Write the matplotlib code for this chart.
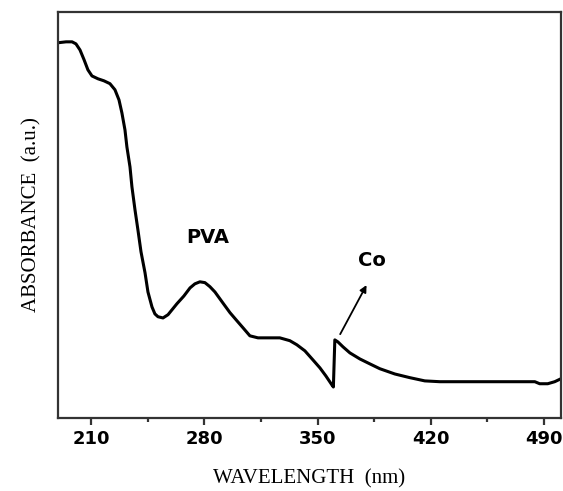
import matplotlib
matplotlib.use('Agg')
import matplotlib.pyplot as plt
from matplotlib.ticker import MultipleLocator

# UV-vis spectrum (absorbance in arbitrary units)
wavelength = [190.2, 194.6, 198.3, 200.7, 203.2, 205.7, 208.1, 210.6, 214.3, 218.0,
              221.7, 224.8, 227.3, 229.1, 231.0, 232.2, 234.1, 235.3, 237.2, 239.0,
              240.9, 243.4, 245.2, 247.7, 249.5, 251.4, 254.5, 257.6, 263.1, 267.4,
              271.2, 274.2, 277.3, 280.4, 283.5, 286.6, 291.5, 295.9, 300.2, 303.9,
              308.2, 313.2, 319.3, 326.7, 332.9, 337.2, 342.2, 347.1, 351.5, 355.2,
              358.9, 359.8, 360.7, 362.6, 365.7, 370.0, 376.2, 382.3, 388.5, 397.8,
              407.0, 416.3, 425.6, 450.3, 475.0, 484.3, 487.3, 492.3, 496.6, 500.3]
absorbance = [0.924, 0.926, 0.926, 0.921, 0.906, 0.882, 0.857, 0.842, 0.835, 0.830,
              0.823, 0.808, 0.783, 0.751, 0.709, 0.667, 0.618, 0.569, 0.512, 0.463,
              0.409, 0.357, 0.310, 0.273, 0.256, 0.249, 0.246, 0.254, 0.281, 0.300,
              0.320, 0.330, 0.335, 0.333, 0.323, 0.310, 0.283, 0.259, 0.239, 0.222,
              0.202, 0.197, 0.197, 0.197, 0.190, 0.180, 0.165, 0.143, 0.123, 0.103,
              0.081, 0.076, 0.192, 0.187, 0.175, 0.160, 0.145, 0.133, 0.121, 0.108,
              0.099, 0.091, 0.089, 0.089, 0.089, 0.089, 0.084, 0.084, 0.089, 0.096]

xticks = [210, 280, 350, 420, 490]

fig = plt.figure(figsize=(5.63, 4.91), dpi=100)
ax = fig.add_axes([0.103, 0.149, 0.8935, 0.827])

ax.plot(wavelength, absorbance, color='black', lw=2.2, solid_joinstyle='round')

ax.set_xlim(189.6, 500.5)
ax.set_ylim(0, 1)
ax.set_xticks(xticks)
ax.xaxis.set_minor_locator(MultipleLocator(35))
ax.set_yticks([])

for s in ax.spines.values():
    s.set_color('#333333')
    s.set_linewidth(1.6)

ax.tick_params(axis='x', which='major', direction='out', length=5, width=1.6,
               color='#333333', pad=4)
ax.tick_params(axis='x', which='minor', direction='out', length=3, width=1.6,
               color='#333333')
for lbl in ax.get_xticklabels():
    lbl.set_fontweight('bold')
    lbl.set_fontsize(13)

ax.set_xlabel('WAVELENGTH  (nm)', family='Liberation Serif', fontsize=15, labelpad=15)
ax.set_ylabel('ABSORBANCE  (a.u.)', family='Liberation Serif', fontsize=15, labelpad=12)

ax.text(282.0, 0.443, 'PVA', ha='center', va='center', fontsize=14, fontweight='bold')
ax.text(383.5, 0.387, 'Co', ha='center', va='center', fontsize=14, fontweight='bold')
ax.annotate('', xy=(381.1, 0.333), xytext=(363.2, 0.200),
            arrowprops=dict(arrowstyle='-|>', color='black', lw=1.3, mutation_scale=10))

fig.savefig('out.png', dpi=100)
